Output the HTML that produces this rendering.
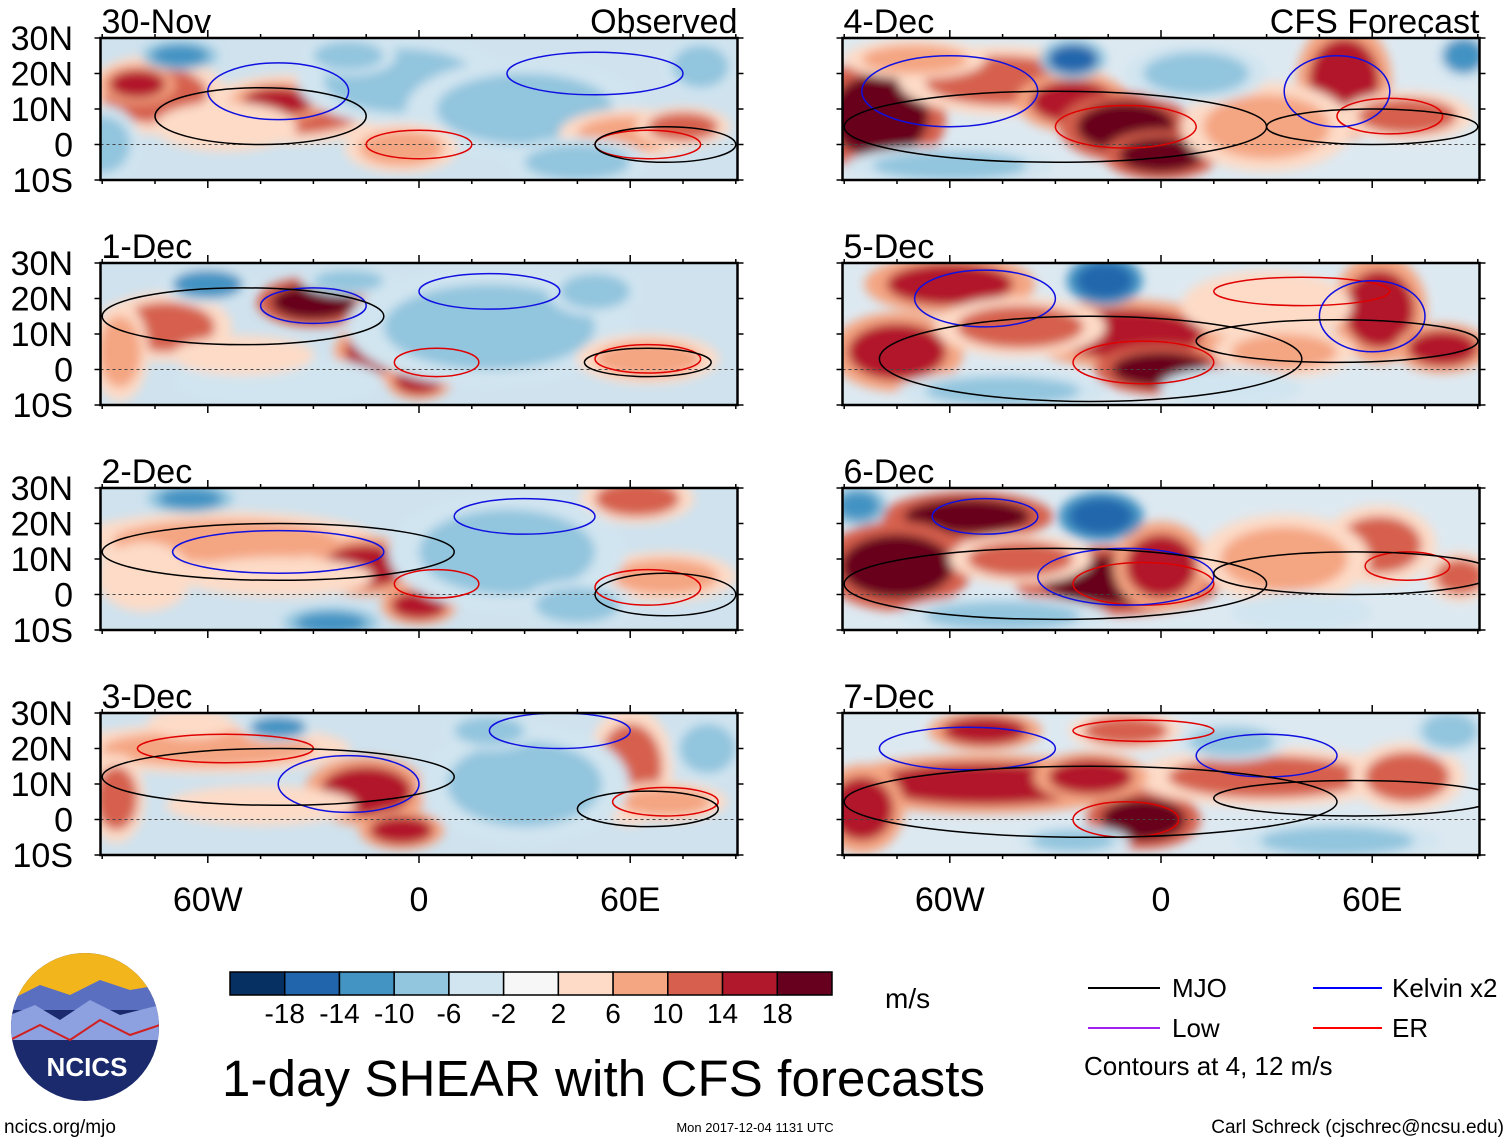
<!DOCTYPE html>
<html><head><meta charset="utf-8">
<style>
body{margin:0;background:#fff;width:1510px;height:1142px;overflow:hidden;font-family:"Liberation Sans",sans-serif;}
svg{position:absolute;left:0;top:0}
</style></head>
<body>
<svg id="fig" width="1510" height="1142" viewBox="0 0 1510 1142">
<defs>
<filter id="blur" x="-20%" y="-20%" width="140%" height="140%"><feGaussianBlur stdDeviation="5"/></filter>
</defs>
</svg>
<script>
// colorbar data
const levels=[-18,-14,-10,-6,-2,2,6,10,14,18];
const colors=["#053061","#2166ac","#4393c3","#92c5de","#d1e5f0","#f7f7f7","#fddbc7","#f4a582","#d6604d","#b2182b","#67001f"];
const panelTitles=["30-Nov","1-Dec","2-Dec","3-Dec","4-Dec","5-Dec","6-Dec","7-Dec"];
const latTicks=["30N","20N","10N","0","10S"];
const lonTicks=[-60,0,60];
const lonLabels=["60W","0","60E"];
// blobs per panel: [lon, lat, rxDeg, ryDeg, value m/s]
const blobs0=[[-75,14,15,8,14],[-80,17,8,4,17],[-35,10,20,7,14],[-40,12,10,4,18],[-55,5,15,5,6],[-68,25,8,3,-12],[-5,18,22,9,-7],[30,10,25,10,-6],[60,3,15,5,8],[75,5,10,4,12],[-5,-1,12,5,8],[-90,0,8,8,-6],[45,-5,15,5,-6],[80,22,8,6,-6],[-20,25,10,4,-6]];
const blobs1=[[-72,12,14,7,14],[-30,19,12,5,19],[-12,5,9,6,16],[0,-3,7,4,16],[-60,24,10,4,-10],[-40,-3,22,5,-4],[20,12,30,12,-6],[65,3,15,5,8],[-85,5,6,10,8],[-50,4,15,4,6],[50,22,10,5,-6],[-20,25,10,3,-6]];
const blobs2=[[-55,15,32,6,10],[-15,8,12,6,18],[0,-3,8,4,16],[62,27,12,5,14],[70,5,15,5,10],[-65,27,9,3,-12],[-25,-8,10,3,-12],[25,12,25,12,-6],[-78,5,10,7,6],[-40,5,20,4,6],[45,-3,12,5,-6]];
const blobs3=[[-60,20,30,5,10],[-15,8,13,7,18],[-5,-3,9,4,16],[60,15,9,12,12],[70,5,13,4,10],[-65,27,9,3,6],[-40,26,8,3,-10],[82,20,8,7,-8],[30,10,22,12,-6],[-86,6,6,9,14],[-45,4,20,4,6],[20,25,10,4,-8]];
const blobs4=[[-80,8,14,12,19],[-45,18,22,7,14],[-25,12,12,6,16],[-10,5,14,7,19],[0,-3,12,5,19],[52,18,10,12,18],[70,8,14,5,14],[-25,24,7,4,-14],[86,25,6,5,-10],[30,5,18,9,8],[-60,-6,22,4,-6],[10,20,15,6,-6],[-70,24,15,4,10]];
const blobs5=[[-60,24,18,6,18],[-75,5,14,8,18],[-10,10,22,7,18],[0,0,14,5,19],[62,17,10,11,18],[80,6,10,5,16],[-16,25,8,5,-16],[-45,-6,22,4,-6],[30,18,18,7,6],[-40,12,18,6,12],[35,5,15,5,8],[20,-5,15,4,-5]];
const blobs6=[[-55,22,18,5,19],[-75,8,16,9,19],[-12,4,22,7,19],[0,8,10,9,18],[62,14,12,8,14],[85,5,7,5,12],[-17,22,9,5,-16],[-86,25,6,4,-12],[-45,-6,22,4,-6],[35,10,18,9,8],[-40,10,15,5,12],[40,-5,15,4,-5]];
const blobs7=[[-50,10,32,6,18],[-5,0,12,6,19],[-50,25,12,4,16],[-10,25,12,4,14],[30,12,28,6,14],[70,12,12,7,12],[-85,3,9,9,18],[-25,-6,12,3,-8],[50,-6,22,4,-6],[82,25,8,5,-8],[-20,12,12,5,16],[20,22,12,4,-6]];
const allBlobs=[blobs0,blobs1,blobs2,blobs3,blobs4,blobs5,blobs6,blobs7];
// MJO black contour ellipses per panel: [lon, lat, rxDeg, ryDeg]
const mjo=[[[-45,8,30,8],[70,0,20,5]],[[-50,15,40,8],[65,2,18,4]],[[-40,12,50,8],[70,0,20,6]],[[-40,12,50,8],[65,3,20,5]],[[-30,5,60,10],[60,5,30,5]],[[-20,3,60,12],[50,8,40,6]],[[-30,3,60,10],[55,6,40,6]],[[-20,5,70,10],[55,6,40,5]]];
const kelvin=[[[-40,15,20,8],[50,20,25,6]],[[-30,18,15,5],[20,22,20,5]],[[-40,12,30,6],[30,22,20,5]],[[-20,10,20,8],[40,25,20,5]],[[-60,15,25,10],[50,15,15,10]],[[-50,20,20,8],[60,15,15,10]],[[-50,22,15,5],[-10,5,25,8]],[[-55,20,25,6],[30,18,20,6]]];
const er=[[[0,0,15,4],[65,0,15,4]],[[5,2,12,4],[65,3,15,4]],[[5,3,12,4],[65,2,15,5]],[[-55,20,25,4],[70,5,15,4]],[[-10,5,20,6],[65,8,15,5]],[[-5,2,20,6],[40,22,25,4]],[[-5,3,20,6],[70,8,12,4]],[[-10,0,15,5],[-5,25,20,3]]];

const NS="http://www.w3.org/2000/svg";
const svg=document.getElementById('fig');
const defs=svg.querySelector('defs');
function mk(tag,attrs,parent){const e=document.createElementNS(NS,tag);for(const k in attrs)e.setAttribute(k,attrs[k]);(parent||svg).appendChild(e);return e;}
function colorFor(v){let i=0;while(i<levels.length&&v>levels[i])i++;return colors[i];}
const panelTops=[38,263,488,713];
const centers=[419,1161];
const XS=3.52,YS=3.55,PW=637,PH=142;
for(let p=0;p<8;p++){
  const col=p<4?0:1,row=p%4;
  const top=panelTops[row],cx=centers[col],left=cx-318.5;
  const xf=lon=>cx+lon*XS, yf=lat=>top+(30-lat)*YS;
  const cp=mk('clipPath',{id:'c'+p},defs);mk('rect',{x:left,y:top,width:PW,height:PH},cp);
  const g=mk('g',{'clip-path':'url(#c'+p+')'});
  
  
  mk('rect',{x:left,y:top,width:PW,height:PH,fill:col?'#dde9f1':'#cfe2ee'},g);
  const bg=mk('g',{filter:'url(#blur)'},g);
  allBlobs[p].forEach(b=>{
    const prev=b[4]>0?Math.max(3,b[4]-8):Math.min(-3,b[4]+5);
    mk('ellipse',{cx:xf(b[0]),cy:yf(b[1]),rx:b[2]*XS*1.35,ry:b[3]*YS*1.4,fill:colorFor(prev)},bg);
    const e=mk('ellipse',{cx:xf(b[0]),cy:yf(b[1]),rx:b[2]*XS,ry:b[3]*YS,fill:colorFor(b[4])},bg);
    
    
  });
  mk('line',{x1:left,x2:left+PW,y1:yf(0),y2:yf(0),stroke:'#444','stroke-dasharray':'3,3','stroke-width':1},g);
  [[er[p],'#e00000'],[kelvin[p],'#1010e0'],[mjo[p],'#000']].forEach(([arr,c])=>arr.forEach(m=>{
    const e=mk('ellipse',{cx:xf(m[0]),cy:yf(m[1]),rx:m[2]*XS,ry:m[3]*YS,fill:'none',stroke:c,'stroke-width':1.5},g);
    
    
  }));
  const fr=mk('rect',{x:left,y:top,width:PW,height:PH,fill:'none',stroke:'#000','stroke-width':2.5});
  
  
  for(let lon=-90;lon<=90;lon+=15){const x=xf(lon),L=lon%60===0?8:4;
    mk('line',{x1:x,x2:x,y1:top,y2:top-L,stroke:'#000','stroke-width':1.5});
    mk('line',{x1:x,x2:x,y1:top+PH,y2:top+PH+L,stroke:'#000','stroke-width':1.5});}
  for(let lat=-10;lat<=30;lat+=10){const y=yf(lat);
    mk('line',{x1:left,x2:left-6,y1:y,y2:y,stroke:'#000','stroke-width':1.5});
    mk('line',{x1:left+PW,x2:left+PW+6,y1:y,y2:y,stroke:'#000','stroke-width':1.5});}
  const t=mk('text',{x:left+1,y:top-5,'font-size':34,fill:'#000'});t.textContent=panelTitles[p];
  
  
  if(col===0){latTicks.forEach((s,i)=>{const tt=mk('text',{x:73,y:top+i*35.5+12,'font-size':34,'text-anchor':'end'});tt.textContent=s;
    
    });}
  if(row===0){const tt=mk('text',{x:left+PW,y:top-5,'font-size':34,'text-anchor':'end'});tt.textContent=col?'CFS Forecast':'Observed';
    
    }
  if(row===3){lonTicks.forEach((lon,i)=>{const tt=mk('text',{x:xf(lon),y:911,'font-size':34,'text-anchor':'middle'});tt.textContent=lonLabels[i];
    
    });}
}
// colorbar
const cbx=230,cbw=602/11;
colors.forEach((c,i)=>{const r=mk('rect',{x:cbx+i*cbw,y:972,width:cbw,height:23,fill:c,stroke:'#000','stroke-width':1.5});
  
  });
levels.forEach((v,i)=>{const t=mk('text',{x:cbx+(i+1)*cbw,y:1023,'font-size':28,'text-anchor':'middle'});t.textContent=v;
  
  });
</script>
<svg width="1510" height="1142" style="pointer-events:none">
<text x="885" y="1008" font-size="28">m/s</text>
<text x="222" y="1096" font-size="51" textLength="763">1-day SHEAR with CFS forecasts</text>
<g>
<line x1="1088" x2="1160" y1="988" y2="988" stroke="#000" stroke-width="2"/><text x="1172" y="997" font-size="26">MJO</text>
<line x1="1088" x2="1160" y1="1028" y2="1028" stroke="#a020f0" stroke-width="2"/><text x="1172" y="1037" font-size="26">Low</text>
<line x1="1313" x2="1382" y1="988" y2="988" stroke="#0000ff" stroke-width="2"/><text x="1392" y="997" font-size="26">Kelvin x2</text>
<line x1="1313" x2="1382" y1="1028" y2="1028" stroke="#ff0000" stroke-width="2"/><text x="1392" y="1037" font-size="26">ER</text>
<text x="1084" y="1075" font-size="26">Contours at 4, 12 m/s</text>
</g>
<g>
<clipPath id="lc"><circle cx="85" cy="1027" r="74"/></clipPath>
<g clip-path="url(#lc)">
<rect x="10" y="953" width="150" height="150" fill="#1a2a6c"/>
<rect x="10" y="953" width="150" height="45" fill="#f2b51c"/>
<path d="M10 1000 L40 985 L70 995 L100 980 L130 990 L160 985 L160 1010 L10 1010Z" fill="#5a6fc0"/>
<path d="M10 1015 L35 1005 L60 1020 L90 1000 L120 1015 L160 1005 L160 1040 L10 1040Z" fill="#8da0e0"/>
<path d="M10 1040 L40 1025 L70 1040 L100 1020 L130 1035 L160 1025" fill="none" stroke="#d02020" stroke-width="2"/>
</g>
<text x="87" y="1076" font-size="26" font-weight="bold" fill="#fff" text-anchor="middle">NCICS</text>
</g>
<text x="4" y="1133" font-size="19">ncics.org/mjo</text>
<text x="755" y="1132" font-size="13" text-anchor="middle">Mon 2017-12-04 1131 UTC</text>
<text x="1504" y="1133" font-size="19" text-anchor="end">Carl Schreck (cjschrec@ncsu.edu)</text>
</svg>
</body></html>
